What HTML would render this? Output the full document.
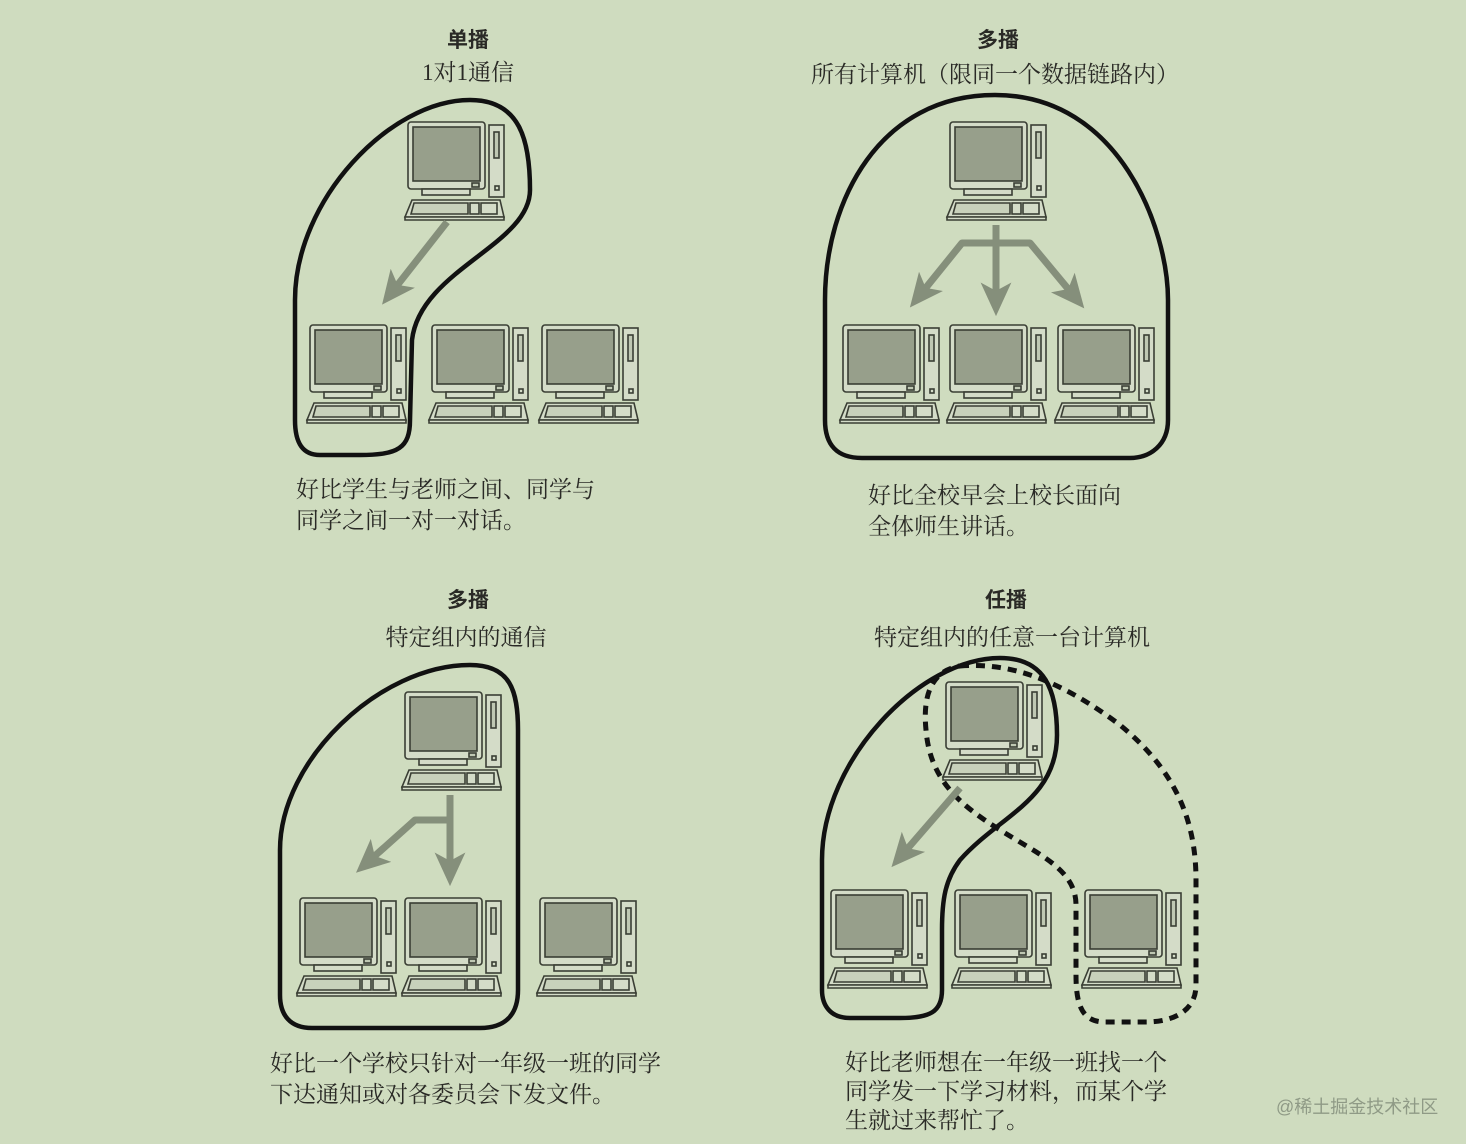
<!DOCTYPE html>
<html><head><meta charset="utf-8"><style>
html,body{margin:0;padding:0}
body{width:1466px;height:1144px;background:#cfdcbf;position:relative;overflow:hidden;font-family:"Liberation Serif","Noto Serif CJK SC",serif;color:#2a2a26}
.t{position:absolute;font-family:"Liberation Sans","Noto Sans CJK SC",sans-serif;font-weight:bold;font-size:21px;white-space:nowrap;transform:translateX(-50%)}
.s{position:absolute;font-size:23px;white-space:nowrap;transform:translateX(-50%)}
.p{position:absolute;font-size:23px;line-height:31px;white-space:nowrap}
svg{position:absolute;left:0;top:0}
</style></head><body>
<svg width="1466" height="1144" viewBox="0 0 1466 1144">
<defs>
<g id="pc" stroke="#3a3e34" stroke-width="1.6" fill="#d4dcc8">
<rect x="0" y="0" width="77" height="67" rx="3"/>
<rect x="5" y="5" width="67" height="54" fill="#979f8b"/>
<rect x="14" y="67" width="48" height="6"/>
<rect x="64" y="61" width="7" height="4" fill="#bfc8b3"/>
<rect x="81" y="3" width="15" height="72"/>
<rect x="86" y="10" width="5" height="26" fill="#bfc8b3"/>
<rect x="87" y="64" width="4" height="4"/>
<path d="M4 78 L92 78 L96 95 L-3 95 Z"/>
<path d="M-3 95 L96 95 L96 98 L-3 98 Z"/>
<path d="M6 81 L60 81 L60 92 L3 92 Z" fill="#c8d1bb"/>
<rect x="62" y="81" width="9" height="11"/>
<rect x="73" y="81" width="16" height="11"/>
</g>
<marker id="ah" markerWidth="5" markerHeight="5" refX="2.5" refY="2.5" orient="auto" markerUnits="strokeWidth"><path d="M0 0.3 L4.8 2.5 L0 4.7 L1.2 2.5 Z" fill="#858f7b"/></marker>
</defs>
<g fill="none" stroke="#111" stroke-width="4.5">
<path d="M470 100 C520 100 530 140 530 190 C530 245 420 270 412 340 L410 420 C410 448 398 455 360 455 L320 455 C302 455 295 442 295 420 L295 300 C295 200 390 100 470 100 Z"/>
<path d="M995 95 C1120 95 1168 230 1168 300 L1168 420 C1168 445 1150 458 1130 458 L862 458 C837 458 825 445 825 420 L825 300 C825 200 880 95 995 95 Z"/>
<path d="M470 665 C510 665 518 690 518 730 L518 990 C518 1015 505 1028 480 1028 L312 1028 C290 1028 280 1015 280 995 L280 850 C280 760 380 665 470 665 Z"/>
<path d="M1000 658 C1045 658 1057 690 1057 735 C1057 800 1000 815 960 860 C945 880 942 900 942 930 L942 990 C942 1012 930 1018 900 1018 L850 1018 C830 1018 822 1005 822 990 L822 860 C822 760 920 658 1000 658 Z"/>
</g>
<path d="M960 666 C1010 662 1060 680 1120 725 C1175 770 1196 820 1196 880 L1196 985 C1196 1010 1175 1022 1145 1022 L1105 1022 C1082 1022 1076 1005 1076 975 L1076 905 C1076 870 1040 855 1000 830 C960 805 930 780 926 730 C922 690 935 670 960 666 Z" fill="none" stroke="#111" stroke-width="5" stroke-dasharray="9 7"/>
<use href="#pc" x="408" y="122"/>
<use href="#pc" x="310" y="325"/><use href="#pc" x="432" y="325"/><use href="#pc" x="542" y="325"/>
<use href="#pc" x="950" y="122"/>
<use href="#pc" x="843" y="325"/><use href="#pc" x="950" y="325"/><use href="#pc" x="1058" y="325"/>
<use href="#pc" x="405" y="692"/>
<use href="#pc" x="300" y="898"/><use href="#pc" x="405" y="898"/><use href="#pc" x="540" y="898"/>
<use href="#pc" x="946" y="682"/>
<use href="#pc" x="831" y="890"/><use href="#pc" x="955" y="890"/><use href="#pc" x="1085" y="890"/>
<g fill="none" stroke="#858f7b" stroke-width="7" stroke-linejoin="round">
<path d="M447 222 L392 292" marker-end="url(#ah)"/>
<path d="M996 225 L996 300" marker-end="url(#ah)"/>
<path d="M996 243 L962 243 L920 295" marker-end="url(#ah)"/>
<path d="M996 243 L1030 243 L1074 296" marker-end="url(#ah)"/>
<path d="M450 795 L450 870" marker-end="url(#ah)"/>
<path d="M450 820 L415 820 L368 862" marker-end="url(#ah)"/>
<path d="M960 788 L902 855" marker-end="url(#ah)"/>
</g>
</svg>
<div class="t" style="left:468px;top:24px">单播</div>
<div class="s" style="left:468px;top:54px">1对1通信</div>
<div class="t" style="left:998px;top:24px">多播</div>
<div class="s" style="left:995px;top:56px">所有计算机（限同一个数据链路内）</div>
<div class="t" style="left:468px;top:584px">多播</div>
<div class="s" style="left:466px;top:619px">特定组内的通信</div>
<div class="t" style="left:1006px;top:584px">任播</div>
<div class="s" style="left:1012px;top:619px">特定组内的任意一台计算机</div>
<div class="p" style="left:296px;top:474px">好比学生与老师之间、同学与<br>同学之间一对一对话。</div>
<div class="p" style="left:868px;top:480px">好比全校早会上校长面向<br>全体师生讲话。</div>
<div class="p" style="left:270px;top:1048px">好比一个学校只针对一年级一班的同学<br>下达通知或对各委员会下发文件。</div>
<div class="p" style="left:845px;top:1048px;line-height:29px">好比老师想在一年级一班找一个<br>同学发一下学习材料，而某个学<br>生就过来帮忙了。</div>
<div style="position:absolute;left:1276px;top:1093px;font-family:'Liberation Sans','Noto Sans CJK SC',sans-serif;font-size:18px;color:#8f9a86">@稀土掘金技术社区</div>
</body></html>
